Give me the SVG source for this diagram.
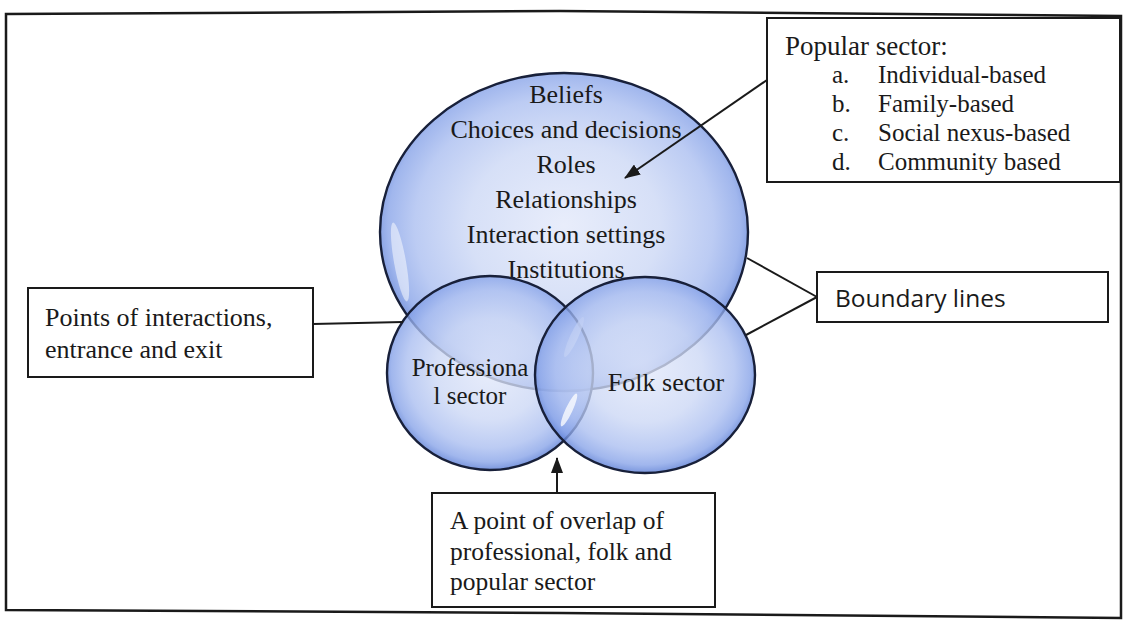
<svg xmlns="http://www.w3.org/2000/svg" width="1125" height="625" viewBox="0 0 1125 625">
<style>
.serif{font-family:"Liberation Serif","Times New Roman",serif;fill:#1a1a1a;}
.c{text-anchor:middle;}
.box{fill:#ffffff;stroke:#1a1a1a;stroke-width:2;}
.bub{stroke:#18203a;stroke-width:2.4;fill-opacity:0.78;}
.ln{stroke:#1a1a1a;stroke-width:2;fill:none;}
.hl{fill:#ffffff;}
</style>
<defs>
<radialGradient id="g" cx="50%" cy="48%" r="52%">
<stop offset="0" stop-color="#e2e8fa"/>
<stop offset="0.5" stop-color="#cbd7f5"/>
<stop offset="0.78" stop-color="#a9bdf0"/>
<stop offset="0.92" stop-color="#86a2e8"/>
<stop offset="1" stop-color="#5579d4"/>
</radialGradient>
<marker id="ah" viewBox="0 0 16 12" refX="15" refY="6" markerWidth="16" markerHeight="12" markerUnits="userSpaceOnUse" orient="auto">
<path d="M0,0 L16,6 L0,12 Z" fill="#1a1a1a"/>
</marker>
</defs>
<rect width="1125" height="625" fill="#ffffff"/>
<path d="M6,14 L560,11 L1121,16 L1121,618 L560,613 L6,610 Z" fill="none" stroke="#1a1a1a" stroke-width="2.5"/>

<g id="popular-circle">
<ellipse class="bub" cx="564" cy="232" rx="184" ry="159" fill="url(#g)"/>
<ellipse class="hl" cx="400" cy="262" rx="6" ry="40" opacity="0.5" transform="rotate(-10 400 262)"/>
<text class="serif c" x="566" y="103" font-size="26">Beliefs</text>
<text class="serif c" x="566" y="138" font-size="26">Choices and decisions</text>
<text class="serif c" x="566" y="173" font-size="26">Roles</text>
<text class="serif c" x="566" y="208" font-size="26">Relationships</text>
<text class="serif c" x="566" y="243" font-size="26">Interaction settings</text>
<text class="serif c" x="566" y="278" font-size="26">Institutions</text>
</g>

<g id="professional-circle">
<ellipse class="bub" cx="490" cy="373" rx="103" ry="97" fill="url(#g)"/>
<ellipse class="hl" cx="574" cy="337" rx="4" ry="22" opacity="0.75" transform="rotate(25 574 337)"/>
<text class="serif c" x="470" y="376" font-size="25">Professiona</text>
<text class="serif c" x="470" y="404" font-size="25">l sector</text>
</g>

<g id="folk-circle">
<ellipse class="bub" cx="645" cy="375" rx="110" ry="98" fill="url(#g)"/>
<ellipse class="hl" cx="569" cy="410" rx="3.5" ry="18" opacity="0.75" transform="rotate(25 569 410)"/>
<text class="serif c" x="666" y="391" font-size="26">Folk sector</text>
</g>

<g id="popular-sector-box">
<rect class="box" x="767" y="18" width="353" height="164"/>
<text class="serif" x="785" y="55" font-size="27">Popular sector:</text>
<text class="serif" x="832" y="83" font-size="25">a.</text>
<text class="serif" x="878" y="83" font-size="25">Individual-based</text>
<text class="serif" x="832" y="112" font-size="25">b.</text>
<text class="serif" x="878" y="112" font-size="25">Family-based</text>
<text class="serif" x="832" y="141" font-size="25">c.</text>
<text class="serif" x="878" y="141" font-size="25">Social nexus-based</text>
<text class="serif" x="832" y="170" font-size="25">d.</text>
<text class="serif" x="878" y="170" font-size="25">Community based</text>
</g>

<g id="points-box">
<rect class="box" x="28" y="288" width="285" height="89"/>
<text class="serif" x="45" y="326" font-size="26">Points of interactions,</text>
<text class="serif" x="45" y="358" font-size="26">entrance and exit</text>
</g>

<g id="boundary-box">
<rect class="box" x="817" y="272" width="291" height="50"/>
<text x="835" y="307" font-size="24.5" font-family="'Open Sans','Liberation Sans',sans-serif" fill="#1a1a1a">Boundary lines</text>
</g>

<g id="overlap-box">
<rect class="box" x="432" y="493" width="283" height="114"/>
<text class="serif" x="450" y="529" font-size="25.5">A point of overlap of</text>
<text class="serif" x="450" y="560" font-size="25.5">professional, folk and</text>
<text class="serif" x="450" y="590" font-size="25.5">popular sector</text>
</g>

<g id="connectors">
<line class="ln" x1="767" y1="80" x2="625" y2="178" marker-end="url(#ah)"/>
<line class="ln" x1="313" y1="324" x2="403" y2="322"/>
<line class="ln" x1="817" y1="297" x2="747" y2="258"/>
<line class="ln" x1="817" y1="297" x2="746" y2="335"/>
<line class="ln" x1="557" y1="493" x2="557" y2="458" marker-end="url(#ah)"/>
</g>
</svg>
